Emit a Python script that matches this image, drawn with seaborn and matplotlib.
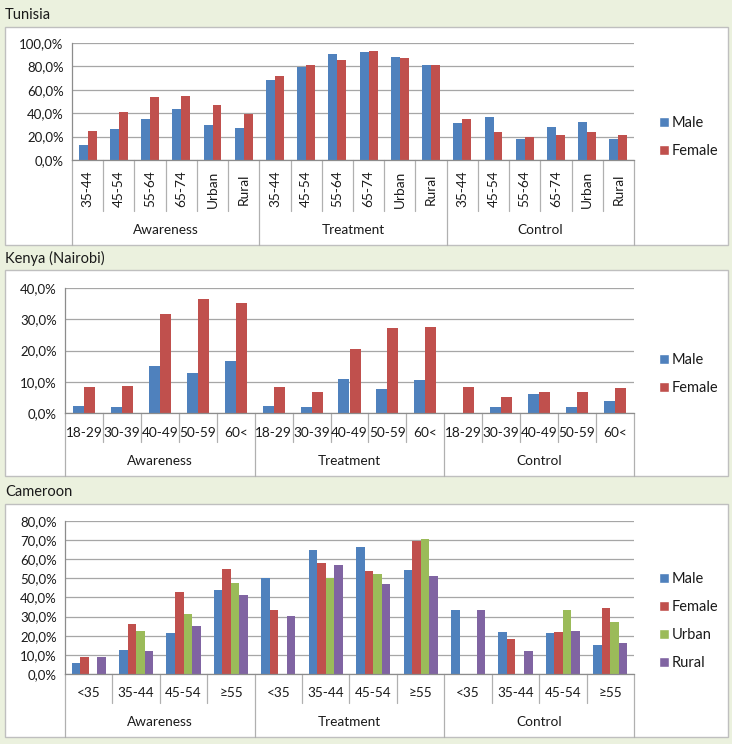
import pandas as pd
import matplotlib
matplotlib.use("Agg")
import matplotlib.pyplot as plt
import matplotlib.transforms as mtransforms
from matplotlib.patches import Rectangle, Patch
from matplotlib.ticker import FuncFormatter, MultipleLocator
import seaborn as sns

# ---- data (percent) ----
groups = ["Awareness", "Treatment", "Control"]

tun_cats = ["35-44", "45-54", "55-64", "65-74", "Urban", "Rural"]
tun_male = [12.9, 26.3, 35.4, 43.4, 29.7, 27.4,
            68.3, 79.7, 90.6, 92.0, 87.7, 81.4,
            31.7, 37.1, 17.7, 28.3, 32.8, 17.7]
tun_female = [24.9, 40.9, 54.0, 54.6, 47.4, 39.7,
              71.7, 80.8, 85.7, 93.1, 86.9, 80.8,
              35.4, 23.7, 20.0, 21.4, 23.7, 21.4]

ken_cats = ["18-29", "30-39", "40-49", "50-59", "60<"]
ken_male = [2.3, 1.9, 15.0, 12.7, 16.6,
            2.2, 1.8, 11.0, 7.7, 10.5,
            0.0, 1.8, 6.2, 2.0, 3.9]
ken_female = [8.4, 8.6, 31.6, 36.6, 35.2,
              8.4, 6.8, 20.6, 27.2, 27.4,
              8.4, 5.0, 6.7, 6.7, 8.0]

cam_cats = ["<35", "35-44", "45-54", "≥55"]
cam_male = [5.9, 12.3, 21.4, 43.7, 50.1, 64.5, 66.1, 54.3, 33.2, 22.1, 21.4, 15.1]
cam_female = [8.9, 26.1, 42.8, 54.6, 33.2, 57.9, 53.6, 69.2, 0.0, 18.1, 21.7, 34.6]
cam_urban = [0.0, 22.6, 31.3, 47.7, 0.0, 50.1, 52.3, 70.3, 0.0, 0.0, 33.2, 27.0]
cam_rural = [8.9, 11.8, 25.0, 41.0, 30.1, 57.0, 46.8, 51.3, 33.2, 12.2, 22.4, 16.0]

colors = ["#4F81BD", "#C0504D", "#9BBB59", "#8064A2"]

sns.set_style("white")
plt.rcParams["font.family"] = ["Lato", "DejaVu Sans"]

W, H = 732, 744
BG = "#EBF1DE"
TXT = "#1a1a1a"
GRID = "#A6A6A6"
LINE = "#8C8C8C"

fig = plt.figure(figsize=(W / 100, H / 100), dpi=100, facecolor=BG)


def fx(px):
    return px / W


def fy(py):
    return 1 - py / H


def panel(title, title_y, box, ax_px, cats, series, values, width, ymax, ystep,
          rot, lab_y, sep_y, grp_y, bottom_y, leg_y):
    # white panel box
    fig.patches.append(Rectangle((fx(box[0]), fy(box[3])), fx(box[2] - box[0]),
                                 (box[3] - box[1]) / H, transform=fig.transFigure,
                                 facecolor="white", edgecolor="#BFBFBF", lw=1, zorder=-10))
    fig.text(fx(5), fy(title_y), title, fontsize=10.5, color=TXT, va="center", ha="left")

    l, t, r, b = ax_px
    ax = fig.add_axes([fx(l), fy(b), (r - l) / W, (b - t) / H])
    ax.patch.set_alpha(0)

    keys = [f"{g}|{c}" for g in groups for c in cats]
    rows = []
    for s, vals in zip(series, values):
        for k, v in zip(keys, vals):
            rows.append({"key": k, "series": s, "value": v})
    df = pd.DataFrame(rows)

    sns.barplot(data=df, x="key", y="value", hue="series", order=keys, hue_order=series,
                palette=colors[:len(series)], width=width, saturation=1, linewidth=0,
                errorbar=None, legend=False, ax=ax)

    n = len(keys)
    ax.set_xlim(-0.5, n - 0.5)
    ax.set_ylim(0, ymax)
    ax.yaxis.set_major_locator(MultipleLocator(ystep))
    ax.yaxis.set_major_formatter(FuncFormatter(lambda v, p: f"{v:.1f}%".replace(".", ",")))
    ax.yaxis.grid(True, color=GRID, lw=0.9)
    ax.set_axisbelow(True)
    ax.set_xticks([])
    ax.set_xlabel("")
    ax.set_ylabel("")
    for s in ["top", "right"]:
        ax.spines[s].set_visible(False)
    for s in ["left", "bottom"]:
        ax.spines[s].set_color(LINE)
        ax.spines[s].set_linewidth(0.9)
    ax.tick_params(axis="y", length=4, color=LINE, labelsize=9.5, labelcolor=TXT, pad=2)

    # multi-level category axis
    trans = mtransforms.blended_transform_factory(ax.transData, fig.transFigure)
    for i, k in enumerate(keys):
        ax.text(i, fy(lab_y), k.split("|")[1], transform=trans, rotation=rot,
                ha="center", va="center", fontsize=9.8, color=TXT)
    for i in range(n + 1):
        low = bottom_y if i % len(cats) == 0 else sep_y
        ax.plot([i - 0.5, i - 0.5], [fy(b), fy(low)], transform=trans, color="#B0B0B0",
                lw=0.9, clip_on=False)
    for j, g in enumerate(groups):
        mid = j * len(cats) + (len(cats) - 1) / 2
        ax.text(mid, fy(grp_y), g, transform=trans, ha="center", va="center",
                fontsize=9.8, color=TXT)

    handles = [Patch(facecolor=colors[i], label=s) for i, s in enumerate(series)]
    ax.legend(handles=handles, loc="center left", bbox_to_anchor=(fx(646), fy(leg_y)),
              bbox_transform=fig.transFigure, frameon=False, fontsize=10.5,
              handlelength=0.65, handleheight=0.65, handletextpad=0.2, labelspacing=0.95,
              labelcolor=TXT)
    return ax


panel("Tunisia", 15, (5, 27, 728, 245), (72, 43, 634, 160), tun_cats,
      ["Male", "Female"], [tun_male, tun_female], 0.57, 100, 20,
      90, 189, 211, 230, 245, 137)

panel("Kenya (Nairobi)", 258, (5, 270, 728, 476), (65, 288, 634, 413), ken_cats,
      ["Male", "Female"], [ken_male, ken_female], 0.58, 40, 10,
      0, 433, 442, 461, 476, 374)

panel("Cameroon", 492, (5, 504, 728, 737), (65, 520.7, 634, 674), cam_cats,
      ["Male", "Female", "Urban", "Rural"], [cam_male, cam_female, cam_urban, cam_rural],
      0.72, 80, 10, 0, 693, 703, 722, 737, 621)

fig.savefig("out.png", dpi=100, facecolor=BG)
